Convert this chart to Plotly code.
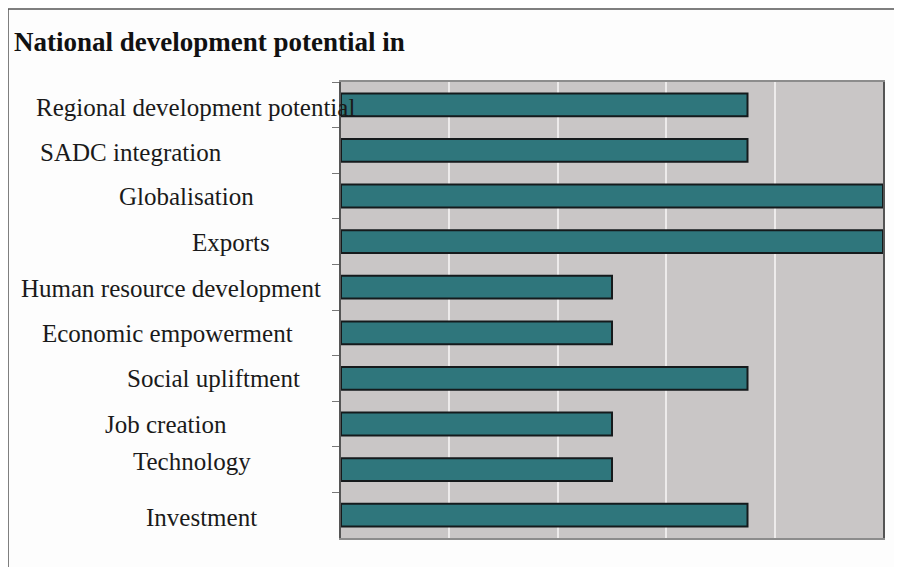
import plotly.graph_objects as go

categories = [
    "Regional development potential",
    "SADC integration",
    "Globalisation",
    "Exports",
    "Human resource development",
    "Economic empowerment",
    "Social upliftment",
    "Job creation",
    "Technology",
    "Investment",
]
values = [1.5, 1.5, 2, 2, 1, 1, 1.5, 1, 1, 1.5]
title_text = "National development potential in"

# label layout (pixel centres of the category labels as drawn in the reference)
label_centres = [195, 131, 186, 231, 171, 167, 213, 166, 192, 201]
label_yshift = [-3, -2, 0, -1, -1, -1, 0, 0, 8, -2]

OFF = 8  # browser body margin
W, H = 902 - OFF, 567 - OFF
L, R, T, B = 341 - OFF, 883 - OFF, 82 - OFF, 538 - OFF

fig = go.Figure(
    go.Bar(
        y=categories,
        x=values,
        orientation="h",
        width=0.5,
        marker=dict(color="#2F767C", line=dict(color="#151a1c", width=2)),
        hoverinfo="skip",
    )
)

def px_x(p):
    return (p - OFF - L) / (R - L)

def px_y(p):
    return (B - (p - OFF)) / (B - T)

annotations = []
for cat, cx, ys in zip(categories, label_centres, label_yshift):
    annotations.append(dict(
        x=0, xref="paper", y=cat, yref="y",
        xshift=cx - OFF - L, yshift=ys,
        text=cat, showarrow=False, xanchor="center", yanchor="middle",
        font=dict(family="Liberation Serif", size=25, color="#1a1a1a"),
    ))
annotations.append(dict(
    x=px_x(12), xref="paper", y=px_y(42), yref="paper",
    text="<b>" + title_text + "</b>", showarrow=False,
    xanchor="left", yanchor="middle",
    font=dict(family="Liberation Serif", size=27, color="#111111"),
))

shapes = [
    dict(type="line", xref="paper", yref="paper",
         x0=px_x(8), x1=px_x(905), y0=px_y(9), y1=px_y(9),
         line=dict(color="#555555", width=1.5)),
    dict(type="line", xref="paper", yref="paper",
         x0=px_x(8), x1=px_x(8), y0=px_y(9), y1=px_y(570),
         line=dict(color="#555555", width=1.5)),
]

fig.update_layout(
    width=W, height=H,
    margin=dict(l=L, r=W - R, t=T, b=H - B),
    paper_bgcolor="#FDFDFD",
    plot_bgcolor="#C9C6C6",
    showlegend=False,
    bargap=0.5,
    annotations=annotations,
    shapes=shapes,
    xaxis=dict(
        range=[0, 2], dtick=0.4, tick0=0,
        showgrid=True, gridcolor="#EDEBEB", gridwidth=1.5,
        showticklabels=False, ticks="",
        showline=True, linecolor="#8C8C8C", linewidth=1.5, mirror=True,
        zeroline=False, fixedrange=True,
    ),
    yaxis=dict(
        autorange="reversed",
        showticklabels=False,
        ticks="outside", tickson="boundaries", ticklen=7,
        tickcolor="#777777", tickwidth=1,
        showline=True, linecolor="#555555", linewidth=1.5, mirror=True,
        showgrid=False, zeroline=False, fixedrange=True,
    ),
)

fig.write_html("out.html", config={"displayModeBar": False})
